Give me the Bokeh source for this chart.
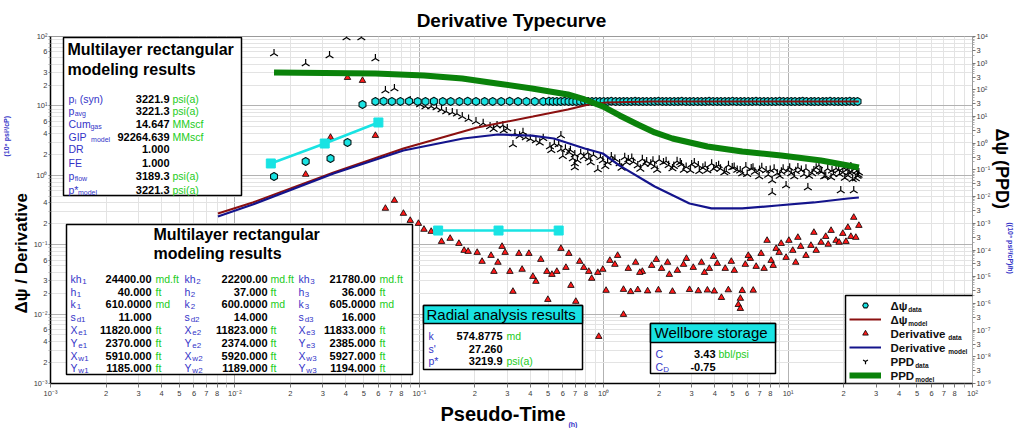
import numpy as np
from bokeh.plotting import figure
from bokeh.models import (Range1d, LogScale, LogAxis, FixedTicker, CustomJSTickFormatter,
                          Label, BoxAnnotation, Legend, LegendItem, Title)
from bokeh.embed import file_html
from bokeh.resources import INLINE

# ------------------------------------------------------------------ data
# Delta-psi data (left axis)
dpsi_t = [0.0163, 0.0242, 0.0330, 0.0408, 0.0492, 0.0578, 0.0640, 0.0710, 0.0790, 0.0880,
          0.0980, 0.108, 0.120, 0.134, 0.148, 0.165, 0.183, 0.203, 0.226, 0.250,
          0.278, 0.309, 0.343, 0.381, 0.423, 0.470, 0.505, 0.530, 0.557, 0.585,
          0.614, 0.645, 0.677, 0.711, 0.746, 0.784, 0.823, 0.864, 0.907, 0.953,
          1.00, 1.05, 1.10, 1.16, 1.22, 1.28, 1.34, 1.41, 1.48, 1.55,
          1.63, 1.71, 1.80, 1.89, 1.98, 2.08, 2.18, 2.29, 2.41, 2.53,
          2.65, 2.79, 2.93, 3.07, 3.23, 3.39, 3.56, 3.73, 3.92, 4.12,
          4.32, 4.54, 4.76, 5.00, 5.25, 5.52, 5.79, 6.08, 6.39, 6.70,
          7.04, 7.39, 7.76, 8.15, 8.56, 8.99, 9.43, 9.91, 10.4, 10.9,
          11.5, 12.0, 12.6, 13.3, 13.9, 14.6, 15.4, 16.1, 16.9, 17.8,
          18.7, 19.6, 20.6, 21.6, 22.7, 23.8]
dpsi_v = [0.962, 1.58, 1.75, 2.97, 10.5, 11.6, 11.7, 11.6, 11.6, 11.7,
          11.6, 11.6, 11.7, 11.6, 11.6, 11.6, 11.7, 11.6, 11.6, 11.6,
          11.6, 11.7, 11.6, 11.6, 11.6, 11.6, 11.7, 11.6, 11.6, 11.6,
          11.7, 11.6, 11.6, 11.6, 11.6, 11.7, 11.6, 11.6, 11.6, 11.6,
          11.6, 11.6, 11.7, 11.6, 11.6, 11.6, 11.6, 11.6, 11.7, 11.6,
          11.6, 11.6, 11.6, 11.6, 11.7, 11.6, 11.6, 11.6, 11.6, 11.6,
          11.7, 11.6, 11.6, 11.6, 11.6, 11.6, 11.6, 11.7, 11.6, 11.6,
          11.6, 11.6, 11.6, 11.7, 11.6, 11.6, 11.6, 11.6, 11.6, 11.7,
          11.6, 11.6, 11.6, 11.6, 11.6, 11.7, 11.6, 11.6, 11.6, 11.6,
          11.6, 11.7, 11.6, 11.6, 11.6, 11.6, 11.6, 11.6, 11.7, 11.6,
          11.6, 11.6, 11.6, 11.7, 11.6, 11.6]

# Delta-psi model (left axis)
dpsim_t = [0.00809, 0.0125, 0.0343, 0.0820, 0.173, 0.206, 0.413, 0.639, 0.830, 1.04, 1.82, 24.2]
dpsim_v = [0.282, 0.406, 1.10, 2.43, 4.28, 4.89, 7.03, 8.87, 10.5, 11.2, 11.6, 11.6]

# Derivative data (left axis)
der_t = [0.0242, 0.0330, 0.0408, 0.0492, 0.0578, 0.0655, 0.0733, 0.0820, 0.0893, 0.0989,
         0.106, 0.116, 0.132, 0.147, 0.164, 0.175, 0.184, 0.206, 0.219, 0.245,
         0.254, 0.267, 0.281, 0.292, 0.310, 0.322, 0.347, 0.361, 0.393, 0.413,
         0.429, 0.456, 0.492, 0.498, 0.524, 0.557, 0.586, 0.624, 0.647, 0.664,
         0.706, 0.741, 0.780, 0.830, 0.861, 0.929, 0.940, 0.989, 1.03, 1.08,
         1.15, 1.28, 1.28, 1.36, 1.40, 1.49, 1.53, 1.62, 1.73, 1.82,
         1.98, 2.06, 2.22, 2.36, 2.51, 2.71, 2.92, 3.06, 3.26, 3.39,
         3.65, 3.74, 3.98, 4.13, 4.35, 4.56, 4.74, 4.92, 5.37, 5.51,
         5.51, 5.64, 5.86, 6.24, 6.47, 6.71, 7.14, 7.69, 8.09, 8.61,
         9.17, 9.75, 10.1, 10.6, 11.3, 12.5, 13.3, 13.8, 15.1, 16.0,
         17.1, 18.2, 18.9, 19.8, 21.1, 21.9, 22.7, 23.3, 24.2, 8.30,
         11.0, 1.19, 1.57, 1.93, 2.27, 2.81, 3.52, 3.94, 5.11, 6.08,
         7.41, 8.94, 11.7, 14.2, 16.5, 20.6]
der_v = [1.03, 3.51, 25.6, 23.2, 3.74, 0.333, 0.434, 0.282, 0.223, 0.202,
         0.166, 0.155, 0.111, 0.123, 0.104, 0.0825, 0.0798, 0.0772, 0.0573, 0.0698,
         0.0411, 0.0555, 0.0942, 0.0772, 0.0411, 0.0212, 0.0746, 0.0440, 0.0746, 0.0348,
         0.0295, 0.0612, 0.0411, 0.0162, 0.0372, 0.0411, 0.0881, 0.0469, 0.0746, 0.0258,
         0.0152, 0.0573, 0.0469, 0.0411, 0.0326, 0.0397, 0.00475, 0.0440, 0.0219, 0.0592,
         0.0519, 0.00986, 0.0226, 0.0454, 0.0210, 0.0555, 0.0224, 0.0411, 0.0215, 0.0501,
         0.0222, 0.0454, 0.0555, 0.0212, 0.0425, 0.0519, 0.0225, 0.0469, 0.0216, 0.0555,
         0.0221, 0.0454, 0.0214, 0.0536, 0.0173, 0.0454, 0.0223, 0.0573, 0.0137, 0.0168,
         0.0120, 0.0218, 0.0519, 0.0632, 0.0220, 0.0485, 0.0746, 0.115, 0.0592, 0.0881,
         0.104, 0.0654, 0.115, 0.0825, 0.127, 0.0698, 0.0973, 0.150, 0.108, 0.131,
         0.160, 0.115, 0.108, 0.145, 0.177, 0.131, 0.247, 0.127, 0.189, 0.0501,
         0.0555, 0.0698, 0.0397, 0.0612, 0.0372, 0.0632, 0.0397, 0.0676, 0.0425, 0.0698,
         0.0454, 0.0772, 0.0942, 0.0825, 0.101, 0.111]

# Derivative model (left axis)
derm_t = [0.00809, 0.0125, 0.0343, 0.0820, 0.173, 0.267, 0.408, 0.537, 0.789, 0.989,
          1.22, 1.89, 2.92, 3.84, 5.64, 8.73, 13.8, 21.1, 24.2]
derm_v = [0.255, 0.380, 1.06, 2.28, 3.39, 3.87, 3.74, 3.39, 2.43, 2.06,
          1.38, 0.690, 0.392, 0.333, 0.333, 0.367, 0.406, 0.463, 0.479]

# PPD data (right axis)
ppd_t = [0.0163, 0.0242, 0.0326, 0.0403, 0.0485, 0.0578, 0.0655, 0.0733, 0.0893, 0.101,
         0.116, 0.132, 0.151, 0.171, 0.203, 0.242, 0.264, 0.284, 0.287, 0.322,
         0.330, 0.378, 0.429, 0.511, 0.586, 0.586, 0.680, 0.697, 0.697, 0.697,
         0.830, 0.929, 0.989, 1.10, 1.22, 1.36, 1.53, 1.71, 1.89, 2.11,
         2.36, 2.64, 2.95, 3.26, 3.65, 4.08, 4.51, 4.98, 5.64, 6.31,
         6.97, 7.60, 8.20, 8.20, 8.73, 9.75, 10.0, 10.8, 11.3, 12.2,
         12.8, 13.8, 14.7, 15.7, 17.1, 18.2, 19.3, 19.8, 21.1, 21.9,
         22.7, 23.3, 24.2, 0.108, 0.124, 0.140, 0.160, 0.185, 0.222, 0.253,
         0.300, 0.350, 0.365, 0.400, 0.450, 0.470, 0.540, 0.620, 0.650, 0.750,
         0.780, 0.880, 1.05, 1.15, 1.30, 1.45, 1.62, 1.80, 2.00, 2.25,
         2.50, 2.80, 3.10, 3.45, 3.85, 4.30, 4.75, 5.30, 5.90, 6.60,
         7.20, 8.00, 9.00, 9.40, 10.4, 11.8, 13.0, 14.2, 15.2, 16.4,
         17.6, 18.8, 20.3, 20.9, 22.2, 23.0, 23.8, 0.52, 0.57, 0.60,
         0.66, 0.72, 0.82, 0.85, 0.96, 1.02, 1.12, 1.25, 1.33, 1.42,
         1.58, 1.67, 1.85, 1.95, 2.18, 2.40, 2.60, 2.72, 3.00, 3.30,
         3.55, 3.95, 4.20, 4.62, 5.10, 5.50, 6.00, 6.45, 7.00, 7.80,
         8.40, 9.20, 10.2, 11.0, 12.5, 13.5, 14.9, 16.0, 17.3, 19.0,
         20.0, 21.4, 22.4, 23.5, 24.1]
ppd_v = [2310, 975, 1940, 9180, 9180, 1500, 95.0, 113, 40.1, 28.4,
         23.9, 18.4, 14.2, 10.1, 6.55, 4.26, 4.64, 4.64, 3.01, 0.902,
         2.33, 1.65, 1.27, 0.759, 1.96, 0.586, 0.270, 0.381, 0.175, 0.124,
         0.270, 0.104, 0.227, 0.321, 0.175, 0.247, 0.148, 0.208, 0.135, 0.191,
         0.114, 0.161, 0.0958, 0.148, 0.0958, 0.135, 0.0805, 0.124, 0.0740, 0.114,
         0.0571, 0.0958, 0.0404, 0.0144, 0.0740, 0.0262, 0.0958, 0.0571, 0.124, 0.0678,
         0.0221, 0.0958, 0.148, 0.0571, 0.0524, 0.114, 0.0171, 0.0805, 0.0622, 0.135,
         0.0171, 0.0481, 0.0805, 24.0, 22.0, 15.5, 12.8, 8.2, 5.6, 3.4,
         3.6, 1.9, 2.6, 1.45, 1.05, 1.55, 0.95, 0.62, 0.45, 0.42,
         0.31, 0.36, 0.19, 0.26, 0.30, 0.20, 0.25, 0.17, 0.24, 0.15,
         0.21, 0.13, 0.19, 0.12, 0.17, 0.11, 0.15, 0.10, 0.135, 0.085,
         0.125, 0.10, 0.06, 0.11, 0.075, 0.10, 0.06, 0.12, 0.085, 0.11,
         0.07, 0.10, 0.05, 0.105, 0.085, 0.11, 0.06, 0.55, 0.90, 0.33,
         0.55, 0.23, 0.44, 0.19, 0.30, 0.14, 0.22, 0.12, 0.19, 0.28,
         0.11, 0.17, 0.22, 0.10, 0.21, 0.14, 0.19, 0.10, 0.16, 0.09,
         0.14, 0.11, 0.15, 0.09, 0.13, 0.095, 0.07, 0.12, 0.10, 0.065,
         0.11, 0.085, 0.12, 0.09, 0.11, 0.075, 0.09, 0.06, 0.095, 0.07,
         0.12, 0.08, 0.045, 0.09, 0.065]

# PPD model (right axis)
ppdm_t = [0.0163, 0.0578, 0.106, 0.171, 0.264, 0.408, 0.639, 0.789, 0.989, 1.22,
          1.53, 1.89, 2.36, 3.65, 5.64, 9.17, 15.1, 24.2]
ppdm_v = [449, 411, 346, 267, 174, 113, 67.3, 43.7, 23.9, 11.0,
          5.06, 2.54, 1.51, 0.759, 0.493, 0.349, 0.227, 0.124]

# analysis lines (left axis)
wbs_t = [0.01566, 0.0307, 0.0600]
wbs_v = [1.48, 2.87, 5.77]
rad_t = [0.1265, 0.269, 0.570]
rad_v = [0.160, 0.160, 0.160]

# axes / tick labels
x_decades = [-3, -2, -1, 0, 1, 2]
x_labeled_minor = [2, 3, 4, 5, 6, 7, 8]
left_decades = [-3, -2, -1, 0, 1, 2]
left_labeled_minor = {-3: [2, 4, 6], -2: [2, 3, 6], -1: [2, 4], 0: [2, 4, 6], 1: [2, 3, 6]}
right_decades = list(range(-9, 5))
right_labeled_minor = [3]

# text boxes
box1_main = ["p", "p", "Cum", "GIP", "DR", "FE", "p", "p*"]
box1_sub = ["i", "avg", "gas", "model", "", "", "flow", "model"]
box1_after = ["(syn)", "", "", "", "", "", "", ""]
box1_vals = ["3221.9", "3221.3", "14.647", "92264.639", "1.000", "1.000", "3189.3", "3221.3"]
box1_units = ["psi(a)", "psi(a)", "MMscf", "MMscf", "", "", "psi(a)", "psi(a)"]

box2_main = ["kh", "h", "k", "s", "X", "Y", "X", "Y"]
box2_subp = ["", "", "", "d", "e", "e", "w", "w"]
layer1 = ["24400.00", "40.000", "610.0000", "11.000", "11820.000", "2370.000", "5910.000", "1185.000"]
layer2 = ["22200.00", "37.000", "600.0000", "14.000", "11823.000", "2374.000", "5920.000", "1189.000"]
layer3 = ["21780.00", "36.000", "605.0000", "16.000", "11833.000", "2385.000", "5927.000", "1194.000"]
box2_units = ["md.ft", "ft", "md", "", "ft", "ft", "ft", "ft"]

box3_main = ["k", "s'", "p*"]
box3_vals = ["574.8775", "27.260", "3219.9"]
box3_units = ["md", "", "psi(a)"]

box4_main = ["C", "C"]
box4_sub = ["", "D"]
box4_vals = ["3.43", "-0.75"]
box4_units = ["bbl/psi", ""]

leg_main = ["Δψ", "Δψ", "Derivative", "Derivative", "PPD", "PPD"]
leg_sub = ["data", "model", "data", "model", "data", "model"]

# ------------------------------------------------------------------ figure
FONT = "Liberation Sans"
BLUE = "#3434c8"
GREEN = "#22cc22"
CYAN = "#19e3e3"

W, H = 1014, 428
ML, MR, MT, MB = 47, 42, 36, 45
PX0 = ML
PY1 = H - MB


def sx(X):
    return X - PX0


def sy(Y):
    return PY1 - Y


p = figure(width=W, height=H, x_axis_type="log", y_axis_type="log",
           x_range=Range1d(1e-3, 1e2), y_range=Range1d(1e-3, 1e2),
           output_backend="svg", toolbar_location=None,
           min_border_left=ML, min_border_right=MR, min_border_top=MT, min_border_bottom=MB)
p.extra_y_ranges = {"ppd": Range1d(1e-9, 1e4)}
p.extra_y_scales = {"ppd": LogScale()}
p.outline_line_color = "#9a9a9a"
p.outline_line_width = 1
p.background_fill_color = "white"
p.border_fill_color = "white"

fmt_code = r"""
const s = {"-": "\u207b", "0": "\u2070", "1": "\u00b9", "2": "\u00b2", "3": "\u00b3",
           "4": "\u2074", "5": "\u2075", "6": "\u2076", "7": "\u2077", "8": "\u2078", "9": "\u2079"};
const e = Math.log10(tick);
const r = Math.round(e);
if (Math.abs(e - r) < 1e-6) {
  let out = "10";
  for (const c of String(r)) { out += s[c]; }
  return out;
}
const m = tick / Math.pow(10, Math.floor(e + 1e-9));
return String(Math.round(m));
"""


def ticks_for(decades, labeled):
    major, minor = [], []
    for d in decades:
        major.append(10.0 ** d)
    for d in decades[:-1]:
        lab = labeled[d] if isinstance(labeled, dict) else labeled
        for k in range(2, 10):
            (major if k in lab else minor).append(k * 10.0 ** d)
    return major, minor


xm, xn = ticks_for(x_decades, x_labeled_minor)
lm, ln = ticks_for(left_decades, left_labeled_minor)
rm, rn = ticks_for(right_decades, right_labeled_minor)

xa = p.xaxis[0]
xa.ticker = FixedTicker(ticks=xm, minor_ticks=xn)
xa.formatter = CustomJSTickFormatter(code=fmt_code)
ya = p.yaxis[0]
ya.ticker = FixedTicker(ticks=lm, minor_ticks=ln)
ya.formatter = CustomJSTickFormatter(code=fmt_code)
ra = LogAxis(y_range_name="ppd", ticker=FixedTicker(ticks=rm, minor_ticks=rn),
             formatter=CustomJSTickFormatter(code=fmt_code))
p.add_layout(ra, "right")

for ax in (xa, ya, ra):
    ax.major_label_text_font = FONT
    ax.major_label_text_font_size = "7.5px"
    ax.major_label_text_color = "#3a3a3a"
    ax.major_tick_in = 0
    ax.minor_tick_in = 0
    ax.major_tick_line_color = "#777777"
    ax.minor_tick_line_color = "#aaaaaa"
xa.axis_line_color = "black"
xa.axis_line_width = 1.5
xa.major_tick_out = 4
xa.minor_tick_out = 4
xa.major_label_standoff = 1
ya.axis_line_color = "black"
ya.axis_line_width = 1.5
ya.major_tick_out = 2
ya.minor_tick_out = 2
ya.major_label_standoff = 1
ra.axis_line_color = "#9a9a9a"
ra.major_tick_out = 3
ra.minor_tick_out = 2
ra.major_label_standoff = 1

p.xgrid[0].ticker = FixedTicker(ticks=[10.0 ** d for d in x_decades], minor_ticks=xn + xm[len(x_decades):])
p.ygrid[0].ticker = FixedTicker(ticks=[10.0 ** d for d in left_decades], minor_ticks=ln + lm[len(left_decades):])
for g in (p.xgrid[0], p.ygrid[0]):
    g.grid_line_color = "#b2b2b2"
    g.grid_line_width = 1
    g.minor_grid_line_color = "#e3e3e3"
    g.minor_grid_line_width = 1


# ------------------------------------------------------------------ axis titles (side panels)
def side_title(text, place, size, color="black", align="left", offset=0, standoff=0, valign="bottom"):
    kw = dict(text=text, align=align, offset=offset, vertical_align=valign,
              text_font=FONT, text_font_size=f"{size}px", text_color=color, text_font_style="bold")
    try:
        t = Title(standoff=standoff, **kw)
    except Exception:
        t = Title(standoff=0, **kw)
    p.add_layout(t, place)


side_title("Derivative Typecurve", "above", 19, align="center", standoff=11)
side_title("Pseudo-Time", "below", 20, offset=390, standoff=0)
side_title("(h)", "below", 7, BLUE, offset=518, standoff=-8, valign="top")
side_title("Δψ / Derivative", "left", 17, offset=70, standoff=0)
side_title("(10⁶ psi²/cP)", "left", 7, BLUE, offset=227, standoff=0, valign="bottom")
side_title("Δψ (PPD)", "right", 18, offset=92, standoff=-6)
side_title("((10⁶ psi²/cP)/h)", "right", 7, BLUE, offset=186, standoff=-8, valign="bottom")

# ------------------------------------------------------------------ glyphs
r_ppd = p.scatter(ppd_t, ppd_v, y_range_name="ppd", marker="y", size=9, angle=np.pi,
                  line_color="black", line_width=1.2)
r_dpsi = p.scatter(dpsi_t, dpsi_v, marker="hex", size=8, angle=np.pi / 2,
                   fill_color=CYAN, line_color="#051818", line_width=1.1)
r_der = p.scatter(der_t, der_v, marker="triangle", size=6.5,
                  fill_color="#ff1a1a", line_color="black", line_width=0.8)
r_dpsim = p.line(dpsim_t, dpsim_v, line_color="#8b1010", line_width=2)
r_derm = p.line(derm_t, derm_v, line_color="#14148c", line_width=2.2)
r_ppdm = p.line(ppdm_t, ppdm_v, y_range_name="ppd", line_color="#0a820a", line_width=6)
p.line(wbs_t, wbs_v, line_color=CYAN, line_width=2.5)
p.scatter(wbs_t, wbs_v, marker="square", size=9, fill_color=CYAN, line_color=CYAN)
p.line(rad_t, rad_v, line_color=CYAN, line_width=2.5)
p.scatter(rad_t, rad_v, marker="square", size=9, fill_color=CYAN, line_color=CYAN)


# ------------------------------------------------------------------ text helpers
def tw(s, size, bold=False):
    w = 0.0
    for c in s:
        if c in "il|'j":
            w += 0.28 if bold else 0.23
        elif c in "ft.,:;() *-/r":
            w += 0.36 if bold else 0.31
        elif c in "mw":
            w += 0.86 if bold else 0.80
        elif c in "MWψ":
            w += 0.80
        elif c.isupper():
            w += 0.70
        elif c.isdigit():
            w += 0.556
        else:
            w += 0.60 if bold else 0.54
    return w * size


def T(X, Y, text, size, color="black", bold=False, align="left", baseline="middle"):
    p.add_layout(Label(x=sx(X), y=sy(Y), x_units="screen", y_units="screen", text=text,
                       text_font=FONT, text_font_size=f"{size}px", text_color=color,
                       text_font_style="bold" if bold else "normal", text_align=align,
                       text_baseline=baseline))


def S(X, Y, main, sub="", after="", size=10.5, color=BLUE, bold=False, ssize=7):
    T(X, Y, main, size, color, bold)
    x = X + tw(main, size, bold) + 0.5
    if sub:
        T(x, Y + 3, sub, ssize, color, bold)
        x += tw(sub, ssize, bold) + 0.5
    if after:
        T(x + 3, Y, after, size, color, bold)


def box(X0, Y0, X1, Y1, fill="white", lw=1.5):
    p.add_layout(BoxAnnotation(left=sx(X0), right=sx(X1), top=sy(Y0), bottom=sy(Y1),
                               left_units="screen", right_units="screen",
                               top_units="screen", bottom_units="screen",
                               fill_color=fill, fill_alpha=1.0, line_color="black",
                               line_width=lw, line_alpha=1.0))


# ------------------------------------------------------------------ box 1
box(60, 37, 238, 195)
T(64, 49, "Multilayer rectangular", 16, "black", True)
T(64, 69, "modeling results", 16, "black", True)
b1_y = [98, 110, 123, 136, 148, 162, 175, 189]
for i in range(len(box1_main)):
    S(65, b1_y[i], box1_main[i], box1_sub[i], box1_after[i])
    T(166, b1_y[i], box1_vals[i], 11, "black", True, "right")
    if box1_units[i]:
        T(169, b1_y[i], box1_units[i], 10.5, GREEN)

# ------------------------------------------------------------------ box 2
box(63, 224, 409, 374)
T(150, 234, "Multilayer rectangular", 16, "black", True)
T(150, 253, "modeling results", 16, "black", True)
b2_y = [278, 291, 303, 316, 329, 342, 355, 367]
col_lab = [67, 181, 295]
col_val = [148, 264, 372]
col_unit = [152, 267, 376]
for j, layer in enumerate([layer1, layer2, layer3]):
    for i in range(len(box2_main)):
        S(col_lab[j], b2_y[i], box2_main[i], box2_subp[i] + str(j + 1), "", 10.5, BLUE, False, 8)
        T(col_val[j], b2_y[i], layer[i], 11, "black", True, "right")
        if box2_units[i]:
            T(col_unit[j], b2_y[i], box2_units[i], 10.5, GREEN)

# ------------------------------------------------------------------ box 3
box(420, 305, 579, 369)
box(420, 305, 579, 323, fill=CYAN)
T(423, 314, "Radial analysis results", 15, "black")
b3_y = [335, 348, 360]
for i in range(len(box3_main)):
    T(425, b3_y[i], box3_main[i], 10.5, BLUE)
    T(499, b3_y[i], box3_vals[i], 11, "black", True, "right")
    if box3_units[i]:
        T(503, b3_y[i], box3_units[i], 10.5, GREEN)

# ------------------------------------------------------------------ box 4
box(647, 323, 772, 373)
box(647, 323, 772, 342, fill=CYAN)
T(651, 332, "Wellbore storage", 15, "black")
b4_y = [353, 366]
for i in range(len(box4_main)):
    S(652, b4_y[i], box4_main[i], box4_sub[i], "", 10.5, BLUE, False, 8)
    T(712, b4_y[i], box4_vals[i], 11, "black", True, "right")
    if box4_units[i]:
        T(715, b4_y[i], box4_units[i], 10.5, GREEN)

# ------------------------------------------------------------------ legend (box + glyphs + own text)
box(842, 295, 970, 383)
leg_r = [r_dpsi, r_dpsim, r_der, r_derm, r_ppd, r_ppdm]
legend = Legend(items=[LegendItem(label=" ", renderers=[leg_r[i]]) for i in range(6)],
                location=(sx(842), sy(386)))
legend.border_line_alpha = 0.0
legend.background_fill_alpha = 0.0
legend.padding = 4
legend.spacing = 0
legend.margin = 0
legend.glyph_width = 32
legend.glyph_height = 14
legend.label_height = 14
legend.label_width = 0
legend.label_standoff = 0
legend.label_text_font_size = "10px"
p.add_layout(legend)
for i in range(6):
    cy = 305 + 14 * i
    T(887, cy, leg_main[i], 11.5, "#111111", True)
    T(887 + tw(leg_main[i], 11.5, True) + 0.5, cy + 4, leg_sub[i], 6.5, "#111111", True)

open("out.html", "w").write(file_html(p, INLINE))
